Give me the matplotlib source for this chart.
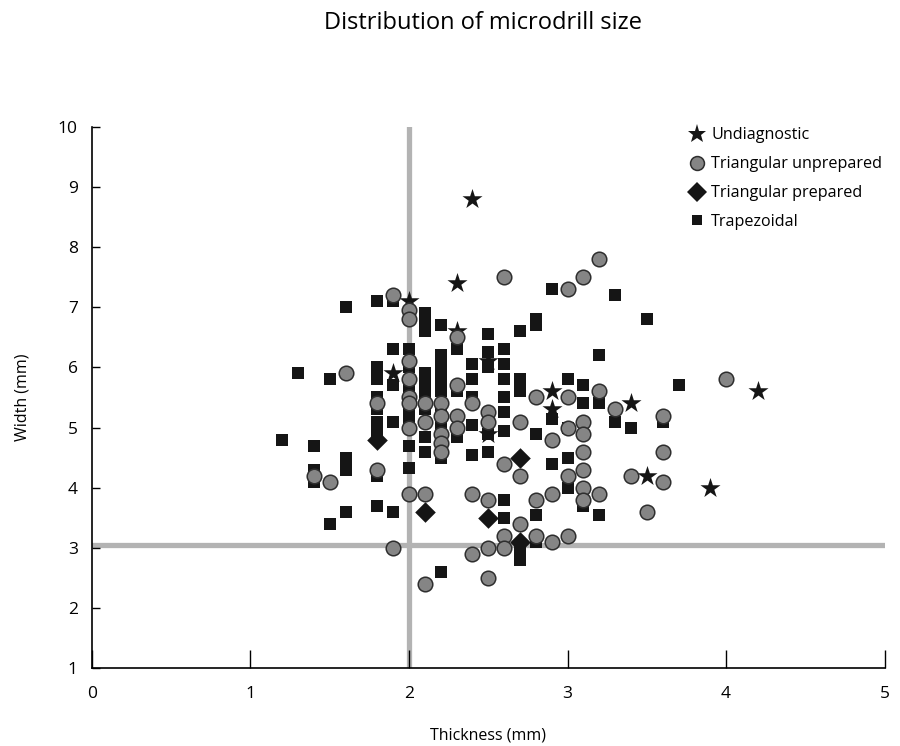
import matplotlib
matplotlib.use("Agg")
import matplotlib.pyplot as plt
from matplotlib.lines import Line2D

plt.rcParams['font.family'] = ['Open Sans', 'DejaVu Sans']

# Undiagnostic (stars)
undiag_x = [2.4, 2.3, 2.0, 2.3, 1.9, 2.5, 2.9, 2.9, 3.4, 4.2, 3.5, 3.9, 2.5]
undiag_y = [8.8, 7.4, 7.1, 6.6, 5.9, 6.1, 5.6, 5.3, 5.4, 5.6, 4.2, 4.0, 4.9]

# Triangular unprepared (grey circles)
unprep_x = [1.9, 2.0, 2.0, 2.3, 2.0, 1.6, 2.6, 3.2, 3.1, 3.0,
            2.0, 2.3, 1.8, 2.0, 2.0, 2.1, 2.2, 2.4,
            2.1, 2.0, 2.2, 2.3, 2.3, 2.2, 2.2, 2.2,
            1.4, 1.5, 1.8, 2.0, 2.1, 2.4, 1.9, 2.4, 2.1,
            2.5, 2.5, 2.8, 3.0, 3.2, 3.3, 3.6, 4.0, 2.7, 2.9, 3.0, 3.1, 3.1,
            3.1, 3.1, 3.1, 3.1, 3.2, 3.0, 2.6, 2.7, 2.5, 2.8, 2.9, 2.7,
            2.6, 2.6, 2.5, 2.8, 2.9, 3.0, 2.5, 3.4, 3.6, 3.6, 3.5]
unprep_y = [7.2, 6.95, 6.8, 6.5, 6.1, 5.9, 7.5, 7.8, 7.5, 7.3,
            5.8, 5.7, 5.4, 5.5, 5.4, 5.4, 5.4, 5.4,
            5.1, 5.0, 5.2, 5.2, 5.0, 4.9, 4.75, 4.6,
            4.2, 4.1, 4.3, 3.9, 3.9, 3.9, 3.0, 2.9, 2.4,
            5.25, 5.1, 5.5, 5.5, 5.6, 5.3, 5.2, 5.8, 5.1, 4.8, 5.0, 5.1, 4.9,
            4.6, 4.3, 4.0, 3.8, 3.9, 4.2, 4.4, 4.2, 3.8, 3.8, 3.9, 3.4,
            3.2, 3.0, 3.0, 3.2, 3.1, 3.2, 2.5, 4.2, 4.6, 4.1, 3.6]

# Triangular prepared (diamonds)
prep_x = [1.8, 2.1, 2.5, 2.7, 2.7]
prep_y = [4.8, 3.6, 3.5, 4.5, 3.1]

# Trapezoidal (squares)
trap_x = [1.2, 1.3, 1.4, 1.4, 1.4, 1.5, 1.5, 1.6, 1.6, 1.6, 1.6,
          1.8, 1.8, 1.8, 1.8, 1.8, 1.8, 1.8, 1.8, 1.8,
          1.9, 1.9, 1.9, 1.9, 1.9,
          2.0, 2.0, 2.0, 2.0, 2.0, 2.0, 2.0,
          2.1, 2.1, 2.1, 2.1, 2.1, 2.1, 2.1, 2.1, 2.1,
          2.2, 2.2, 2.2, 2.2, 2.2, 2.2, 2.2, 2.2, 2.2, 2.2, 2.2,
          2.3, 2.3, 2.3,
          2.4, 2.4, 2.4, 2.4, 2.4,
          2.5, 2.5, 2.5, 2.5, 2.5,
          2.6, 2.6, 2.6, 2.6, 2.6, 2.6, 2.6, 2.6,
          2.7, 2.7, 2.7, 2.7, 2.7,
          2.8, 2.8, 2.8, 2.8, 2.8,
          2.9, 2.9, 2.9,
          3.0, 3.0, 3.0, 3.0,
          3.1, 3.1, 3.1,
          3.2, 3.2, 3.2,
          3.3, 3.3, 3.4, 3.5, 3.6, 3.7]
trap_y = [4.8, 5.9, 4.7, 4.3, 4.1, 5.8, 3.4, 7.0, 4.5, 4.3, 3.6,
          7.1, 6.0, 5.8, 5.5, 5.3, 5.1, 4.95, 4.2, 3.7,
          7.1, 6.3, 5.7, 5.1, 3.6,
          6.3, 6.0, 5.65, 5.25, 5.1, 4.7, 4.33,
          6.9, 6.8, 6.6, 5.9, 5.7, 5.5, 5.3, 4.85, 4.6,
          6.7, 6.2, 6.0, 5.8, 5.6, 5.3, 5.1, 4.9, 4.7, 4.5, 2.6,
          6.3, 5.6, 4.85,
          6.05, 5.8, 5.5, 5.05, 4.55,
          6.55, 6.25, 6.0, 4.9, 4.6,
          6.3, 6.05, 5.8, 5.5, 5.25, 4.95, 3.8, 3.5,
          6.6, 5.8, 5.6, 3.0, 2.8,
          6.8, 6.7, 4.9, 3.55, 3.1,
          7.3, 5.15, 4.4,
          5.8, 5.0, 4.5, 4.0,
          5.7, 5.4, 3.7,
          6.2, 5.4, 3.55,
          7.2, 5.1, 5.0, 6.8, 5.1, 5.7]

x_ticks = [0, 1, 2, 3, 4, 5]
y_ticks = [1, 2, 3, 4, 5, 6, 7, 8, 9, 10]

fig = plt.figure(figsize=(9, 7.46), dpi=100)
ax = fig.add_axes([0.102, 0.1046, 0.881, 0.7252])

# Grey reference lines
ax.axvline(2.0, color='#b3b3b3', lw=3.8, zorder=1)
ax.axhline(3.05, color='#b3b3b3', lw=3.8, zorder=1)

ax.scatter(trap_x, trap_y, marker='s', s=68, color='#151515', lw=0, zorder=2)
ax.scatter(undiag_x, undiag_y, marker='*', s=230, color='#151515', lw=0, zorder=3)
ax.scatter(prep_x, prep_y, marker='D', s=110, color='#151515', lw=0, zorder=4)
ax.scatter(unprep_x, unprep_y, marker='o', s=110, facecolor='#858585',
           edgecolor='#2e2e2e', lw=1.1, zorder=5)

ax.set_xlim(0, 5)
ax.set_ylim(1, 10)
ax.set_xticks(x_ticks)
ax.set_yticks(y_ticks)
ax.tick_params(axis='x', direction='in', length=13, width=1, labelsize=12.5, pad=13)
ax.tick_params(axis='y', direction='in', length=6, width=1, labelsize=12.5, pad=10)
for side in ['top', 'right']:
    ax.spines[side].set_visible(False)
for side in ['left', 'bottom']:
    ax.spines[side].set_linewidth(1.2)

ax.set_xlabel('Thickness (mm)', fontsize=11.5, labelpad=18)
ax.set_ylabel('Width (mm)', fontsize=11.5, labelpad=20)

fig.suptitle('Distribution of microdrill size', fontsize=17, x=0.537, y=0.985)

handles = [
    Line2D([], [], ls='', marker='*', ms=14, color='#151515', mew=0),
    Line2D([], [], ls='', marker='o', ms=10, mfc='#858585', mec='#2e2e2e', mew=1.1),
    Line2D([], [], ls='', marker='D', ms=10, color='#151515', mew=0),
    Line2D([], [], ls='', marker='s', ms=7, color='#151515', mew=0),
]
labels = ['Undiagnostic', 'Triangular unprepared', 'Triangular prepared', 'Trapezoidal']
fig.legend(handles, labels, loc='upper left', bbox_to_anchor=(0.757, 0.84),
           frameon=False, fontsize=11.6, handlelength=1.0, handletextpad=0.35,
           labelspacing=0.8, borderpad=0)

fig.savefig('out.png', dpi=100)
